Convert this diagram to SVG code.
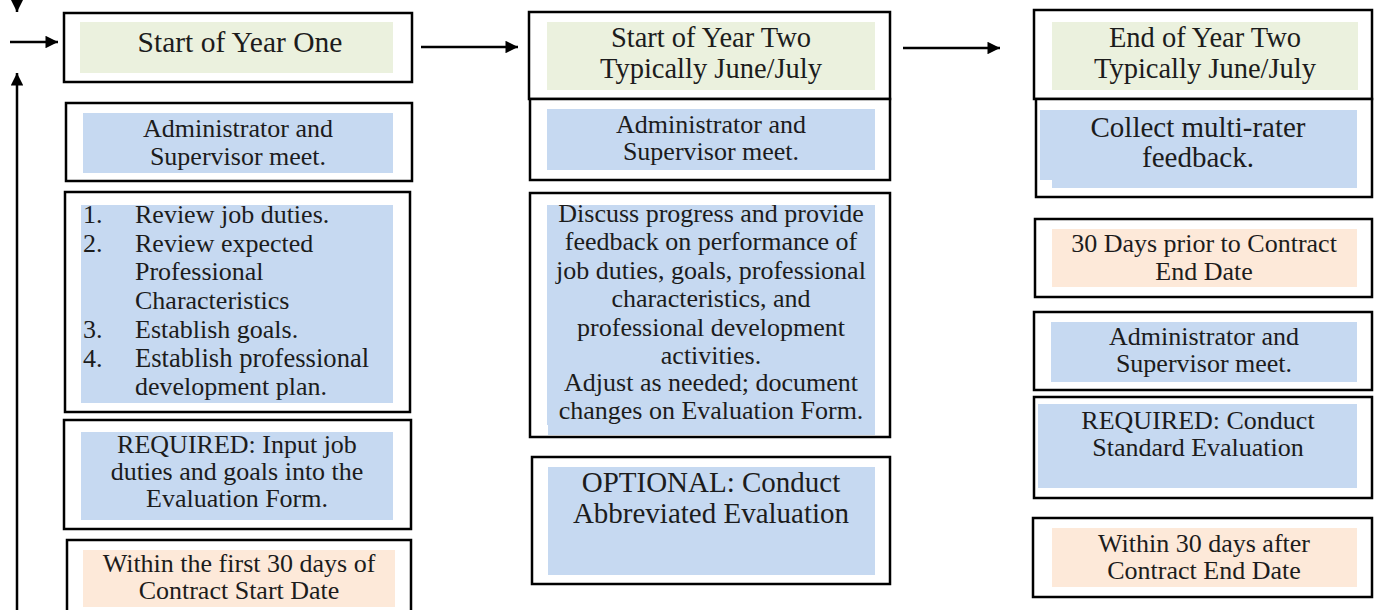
<svg xmlns="http://www.w3.org/2000/svg" width="1375" height="610" viewBox="0 0 1375 610">
<style>
.box{fill:#fff;stroke:#000;stroke-width:2.5}
.g{fill:#ebf1de}
.b{fill:#c6d9f1}
.p{fill:#fde9d9}
.t{font-family:"Liberation Serif","Times New Roman",serif;font-size:26px;fill:#1c1c1c;text-anchor:middle}
.l{font-family:"Liberation Serif","Times New Roman",serif;font-size:26px;fill:#1c1c1c}
.h{font-size:28.5px}
.big{font-size:29px}
.con{stroke:#000;stroke-width:2.5;fill:none}
</style>
<defs>
<marker id="ah" viewBox="0 0 10 10" refX="10" refY="5" markerWidth="5.5" markerHeight="5" markerUnits="strokeWidth" orient="auto">
<path d="M0,0 L10,5 L0,10 z" fill="#000"/>
</marker>
</defs>
<rect width="1375" height="610" fill="#fff"/>

<g id="connectors">
<line class="con" x1="17" y1="-10" x2="17" y2="12" marker-end="url(#ah)"/>
<line class="con" x1="10" y1="42" x2="58" y2="42" marker-end="url(#ah)"/>
<line class="con" x1="17" y1="612" x2="17" y2="73" marker-end="url(#ah)"/>
<line class="con" x1="421" y1="47" x2="518" y2="47" marker-end="url(#ah)"/>
<line class="con" x1="903" y1="48" x2="1000" y2="48" marker-end="url(#ah)"/>
</g>

<g id="y1-start">
<rect class="box" x="64" y="13" width="348" height="69"/>
<rect class="g" x="80" y="22" width="313" height="51"/>
<text class="t" x="240" y="52" style="font-size:29.5px">Start of Year One</text>
</g>
<g id="y1-meet">
<rect class="box" x="66" y="103" width="346" height="78"/>
<rect class="b" x="83" y="113" width="310" height="60"/>
<text class="t" x="238" y="137">Administrator and</text>
<text class="t" x="238" y="165">Supervisor meet.</text>
</g>
<g id="y1-list">
<rect class="box" x="65" y="192" width="345" height="220"/>
<rect class="b" x="81" y="205" width="312" height="198"/>
<text class="l" x="83" y="223">1.</text><text class="l" x="135" y="223">Review job duties.</text>
<text class="l" x="83" y="251.7">2.</text><text class="l" x="135" y="251.7">Review expected</text>
<text class="l" x="135" y="280.4">Professional</text>
<text class="l" x="135" y="309.1">Characteristics</text>
<text class="l" x="83" y="337.8">3.</text><text class="l" x="135" y="337.8">Establish goals.</text>
<text class="l" x="83" y="366.5">4.</text><text class="l" x="135" y="366.5" style="font-size:26.6px">Establish professional</text>
<text class="l" x="135" y="395.2">development plan.</text>
</g>
<g id="y1-required">
<rect class="box" x="64" y="420" width="347" height="109"/>
<rect class="b" x="81" y="432" width="312" height="88"/>
<text class="t" x="237" y="453">REQUIRED: Input job</text>
<text class="t" x="237" y="480">duties and goals into the</text>
<text class="t" x="237" y="507">Evaluation Form.</text>
</g>
<g id="y1-within">
<rect class="box" x="67" y="540" width="344" height="80"/>
<rect class="p" x="83" y="550" width="312" height="57"/>
<text class="t" x="239" y="572">Within the first 30 days of</text>
<text class="t" x="239" y="599">Contract Start Date</text>
</g>

<g id="y2-start">
<rect class="box" x="529" y="12" width="361" height="87"/>
<rect class="g" x="547" y="22" width="328" height="68"/>
<text class="t h" x="711" y="47">Start of Year Two</text>
<text class="t h" x="711" y="78">Typically June/July</text>
</g>
<g id="y2-meet">
<rect class="box" x="530" y="99" width="360" height="81"/>
<rect class="b" x="547" y="109" width="328" height="61"/>
<text class="t" x="711" y="133">Administrator and</text>
<text class="t" x="711" y="160">Supervisor meet.</text>
</g>
<g id="y2-discuss">
<rect class="box" x="530" y="193" width="360" height="244"/>
<rect class="b" x="547" y="205" width="328" height="230"/>
<rect x="538" y="425" width="10" height="10" fill="#fff"/>
<text class="t" x="711" y="222">Discuss progress and provide</text>
<text class="t" x="711" y="250">feedback on performance of</text>
<text class="t" x="711" y="279">job duties, goals, professional</text>
<text class="t" x="711" y="307">characteristics, and</text>
<text class="t" x="711" y="336">professional development</text>
<text class="t" x="711" y="364">activities.</text>
<text class="t" x="711" y="391">Adjust as needed; document</text>
<text class="t" x="711" y="419">changes on Evaluation Form.</text>
</g>
<g id="y2-optional">
<rect class="box" x="532" y="457" width="358" height="127"/>
<rect class="b" x="548" y="467" width="327" height="108"/>
<text class="t big" x="711" y="492">OPTIONAL: Conduct</text>
<text class="t big" x="711" y="522.5">Abbreviated Evaluation</text>
</g>

<g id="y2-end">
<rect class="box" x="1034" y="10" width="338" height="89"/>
<rect class="g" x="1052" y="22" width="306" height="68"/>
<text class="t h" x="1205" y="47">End of Year Two</text>
<text class="t h" x="1205" y="78">Typically June/July</text>
</g>
<g id="y2-collect">
<rect class="box" x="1036" y="99" width="336" height="98"/>
<rect class="b" x="1040" y="110" width="317" height="78"/>
<rect x="1040" y="180" width="12" height="8" fill="#fff"/>
<text class="t big" x="1198" y="137">Collect multi-rater</text>
<text class="t big" x="1198" y="167">feedback.</text>
</g>
<g id="y2-prior">
<rect class="box" x="1035" y="219" width="337" height="78"/>
<rect class="p" x="1052" y="229" width="305" height="58"/>
<text class="t" x="1204" y="252">30 Days prior to Contract</text>
<text class="t" x="1204" y="280">End Date</text>
</g>
<g id="y2-meet2">
<rect class="box" x="1034" y="312" width="338" height="78"/>
<rect class="b" x="1051" y="322" width="306" height="60"/>
<text class="t" x="1204" y="345">Administrator and</text>
<text class="t" x="1204" y="372">Supervisor meet.</text>
</g>
<g id="y2-required">
<rect class="box" x="1034" y="397" width="338" height="101"/>
<rect class="b" x="1038" y="404" width="319" height="84"/>
<text class="t" x="1198" y="429">REQUIRED: Conduct</text>
<text class="t" x="1198" y="456">Standard Evaluation</text>
</g>
<g id="y2-within">
<rect class="box" x="1033" y="518" width="339" height="79"/>
<rect class="p" x="1052" y="528" width="305" height="59"/>
<text class="t" x="1204" y="552">Within 30 days after</text>
<text class="t" x="1204" y="579">Contract End Date</text>
</g>
</svg>
